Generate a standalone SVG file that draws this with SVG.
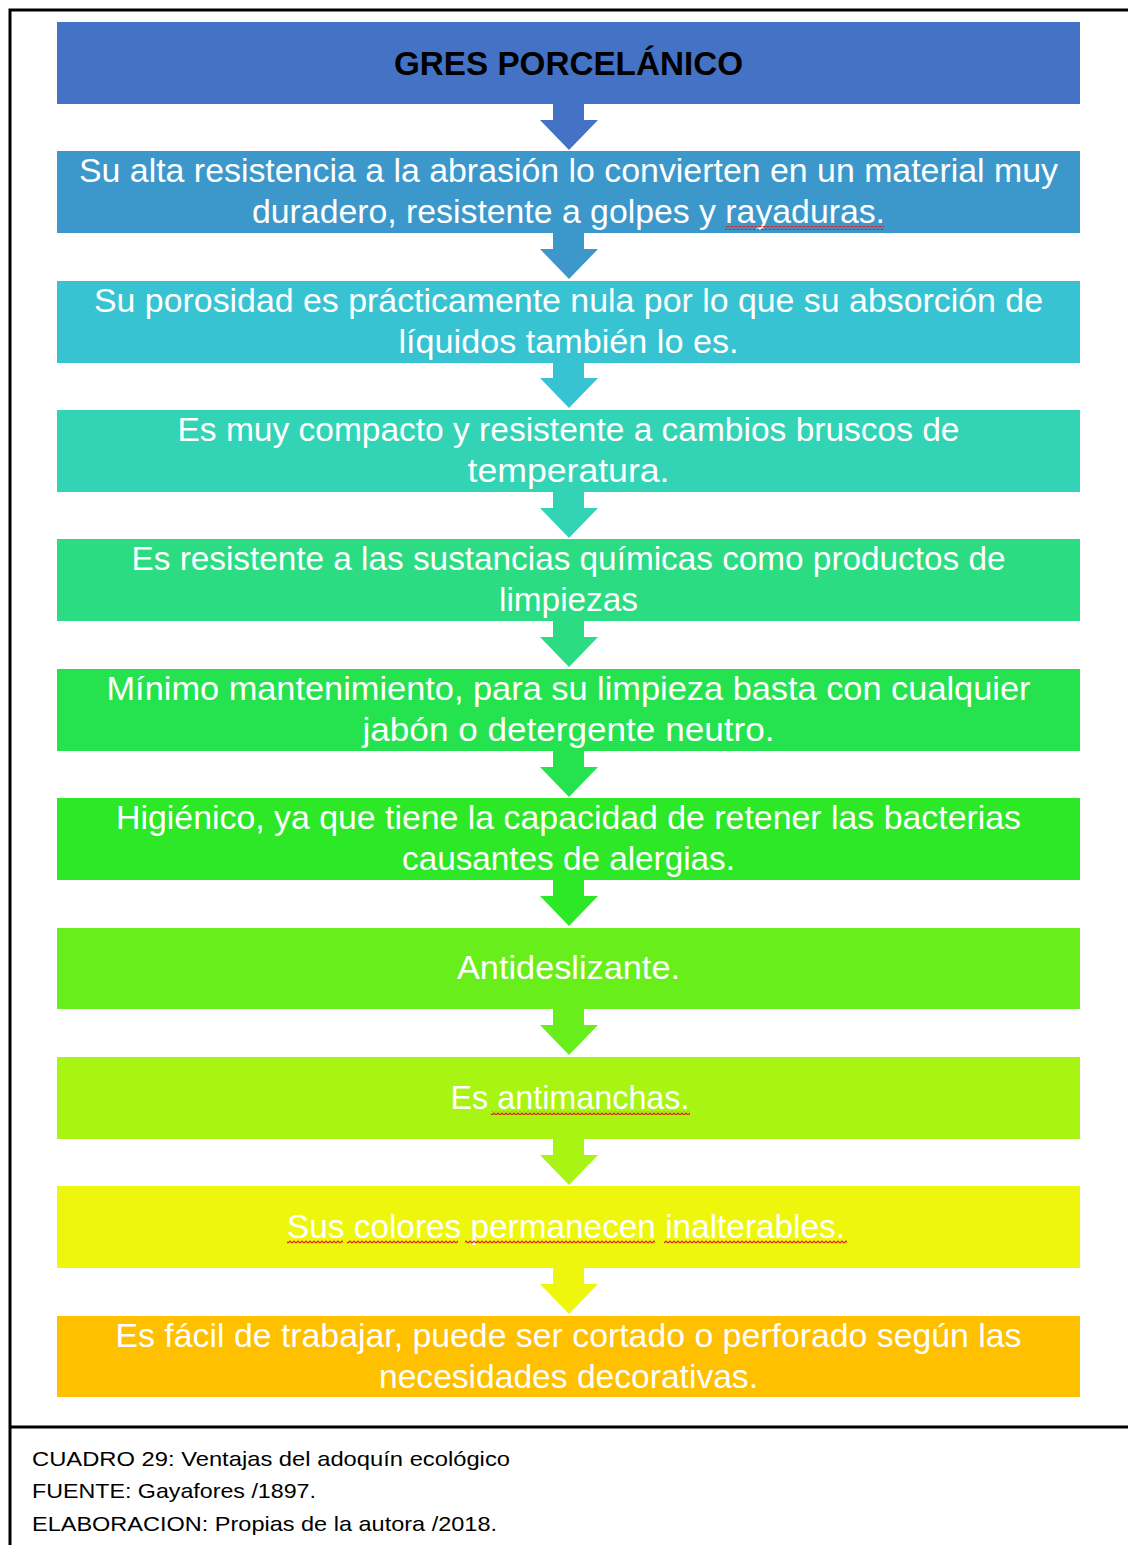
<svg xmlns="http://www.w3.org/2000/svg" width="1128" height="1545" viewBox="0 0 1128 1545">
<defs>
<style>
.t{font-family:"Liberation Sans",Arial,sans-serif;font-size:33px;fill:#fff;text-anchor:middle;}
.ttl{font-family:"Liberation Sans",Arial,sans-serif;font-size:34px;font-weight:bold;fill:#000;text-anchor:middle;}
.cap{font-family:"Liberation Sans",Arial,sans-serif;font-size:21px;fill:#000;}
.frame{stroke:#000;stroke-width:3;fill:none;}
.sq{fill:url(#squig);}
</style>
<pattern id="squig" patternUnits="userSpaceOnUse" width="4" height="4">
<polyline points="0,3 2,1 4,3" fill="none" stroke="#e0201c" stroke-width="1.2"/>
</pattern>
</defs>
<rect width="1128" height="1545" fill="#fff"/>
<g id="frame">
<path class="frame" d="M10,1545 V10 H1128"/>
<path class="frame" d="M10,1427 H1128"/>
</g>
<g id="connectors">
<path fill="#4472C4" d="M553,104 h31 v16 h14 l-29,30 l-29,-30 h13 z"/>
<path fill="#3C98CB" d="M553,233 h31 v16 h14 l-29,30 l-29,-30 h13 z"/>
<path fill="#38C3D2" d="M553,362 h31 v16 h14 l-29,30 l-29,-30 h13 z"/>
<path fill="#33D4B5" d="M553,492 h31 v16 h14 l-29,30 l-29,-30 h13 z"/>
<path fill="#2BDC82" d="M553,621 h31 v16 h14 l-29,30 l-29,-30 h13 z"/>
<path fill="#24E34F" d="M553,751 h31 v16 h14 l-29,30 l-29,-30 h13 z"/>
<path fill="#2CE826" d="M553,880 h31 v16 h14 l-29,30 l-29,-30 h13 z"/>
<path fill="#67EE1B" d="M553,1009 h31 v16 h14 l-29,30 l-29,-30 h13 z"/>
<path fill="#A8F412" d="M553,1139 h31 v16 h14 l-29,30 l-29,-30 h13 z"/>
<path fill="#EEF70B" d="M553,1268 h31 v16 h14 l-29,30 l-29,-30 h13 z"/>
</g>
<g id="n1"><rect x="57" y="22" width="1023" height="82" fill="#4472C4"/>
<text class="ttl" x="568.5" y="75" textLength="349" lengthAdjust="spacingAndGlyphs">GRES PORCELÁNICO</text></g>
<g id="n2"><rect x="57" y="151" width="1023" height="82" fill="#3C98CB"/>
<text class="t" x="568.5" y="182" textLength="979" lengthAdjust="spacingAndGlyphs">Su alta resistencia a la abrasión lo convierten en un material muy</text>
<text class="t" x="568.5" y="223" textLength="633" lengthAdjust="spacingAndGlyphs">duradero, resistente a golpes y rayaduras.</text>
<rect class="sq" x="725" y="226" width="159" height="4"/></g>
<g id="n3"><rect x="57" y="281" width="1023" height="82" fill="#38C3D2"/>
<text class="t" x="568.5" y="312" textLength="949" lengthAdjust="spacingAndGlyphs">Su porosidad es prácticamente nula por lo que su absorción de</text>
<text class="t" x="568.5" y="353" textLength="340" lengthAdjust="spacingAndGlyphs">líquidos también lo es.</text></g>
<g id="n4"><rect x="57" y="410" width="1023" height="82" fill="#33D4B5"/>
<text class="t" x="568.5" y="441" textLength="782" lengthAdjust="spacingAndGlyphs">Es muy compacto y resistente a cambios bruscos de</text>
<text class="t" x="568.5" y="482" textLength="202" lengthAdjust="spacingAndGlyphs">temperatura.</text></g>
<g id="n5"><rect x="57" y="539" width="1023" height="82" fill="#2BDC82"/>
<text class="t" x="568.5" y="570" textLength="874" lengthAdjust="spacingAndGlyphs">Es resistente a las sustancias químicas como productos de</text>
<text class="t" x="568.5" y="611" textLength="139" lengthAdjust="spacingAndGlyphs">limpiezas</text></g>
<g id="n6"><rect x="57" y="669" width="1023" height="82" fill="#24E34F"/>
<text class="t" x="568.5" y="700" textLength="924" lengthAdjust="spacingAndGlyphs">Mínimo mantenimiento, para su limpieza basta con cualquier</text>
<text class="t" x="568.5" y="741" textLength="412" lengthAdjust="spacingAndGlyphs">jabón o detergente neutro.</text></g>
<g id="n7"><rect x="57" y="798" width="1023" height="82" fill="#2CE826"/>
<text class="t" x="568.5" y="829" textLength="905" lengthAdjust="spacingAndGlyphs">Higiénico, ya que tiene la capacidad de retener las bacterias</text>
<text class="t" x="568.5" y="870" textLength="333" lengthAdjust="spacingAndGlyphs">causantes de alergias.</text></g>
<g id="n8"><rect x="57" y="928" width="1023" height="81" fill="#67EE1B"/>
<text class="t" x="568.5" y="979" textLength="223" lengthAdjust="spacingAndGlyphs">Antideslizante.</text></g>
<g id="n9"><rect x="57" y="1057" width="1023" height="82" fill="#A8F412"/>
<text class="t" x="570" y="1109" textLength="239" lengthAdjust="spacingAndGlyphs">Es antimanchas.</text>
<rect class="sq" x="491" y="1111" width="199" height="4"/></g>
<g id="n10"><rect x="57" y="1186" width="1023" height="82" fill="#EEF70B"/>
<text class="t" x="566" y="1238" textLength="558" lengthAdjust="spacingAndGlyphs">Sus colores permanecen inalterables.</text>
<rect class="sq" x="287" y="1240" width="56" height="4"/>
<rect class="sq" x="347" y="1240" width="111" height="4"/>
<rect class="sq" x="465" y="1240" width="190" height="4"/>
<rect class="sq" x="664" y="1240" width="183" height="4"/></g>
<g id="n11"><rect x="57" y="1316" width="1023" height="81" fill="#FFC000"/>
<text class="t" x="568.5" y="1347" textLength="906" lengthAdjust="spacingAndGlyphs">Es fácil de trabajar, puede ser cortado o perforado según las</text>
<text class="t" x="568.5" y="1388" textLength="379" lengthAdjust="spacingAndGlyphs">necesidades decorativas.</text></g>
<g id="caption">
<text class="cap" x="32" y="1466" textLength="478" lengthAdjust="spacingAndGlyphs">CUADRO 29: Ventajas del adoquín ecológico</text>
<text class="cap" x="32" y="1498" textLength="284" lengthAdjust="spacingAndGlyphs">FUENTE:  Gayafores /1897.</text>
<text class="cap" x="32" y="1531" textLength="465" lengthAdjust="spacingAndGlyphs">ELABORACION: Propias de la autora /2018.</text>
</g>
</svg>
